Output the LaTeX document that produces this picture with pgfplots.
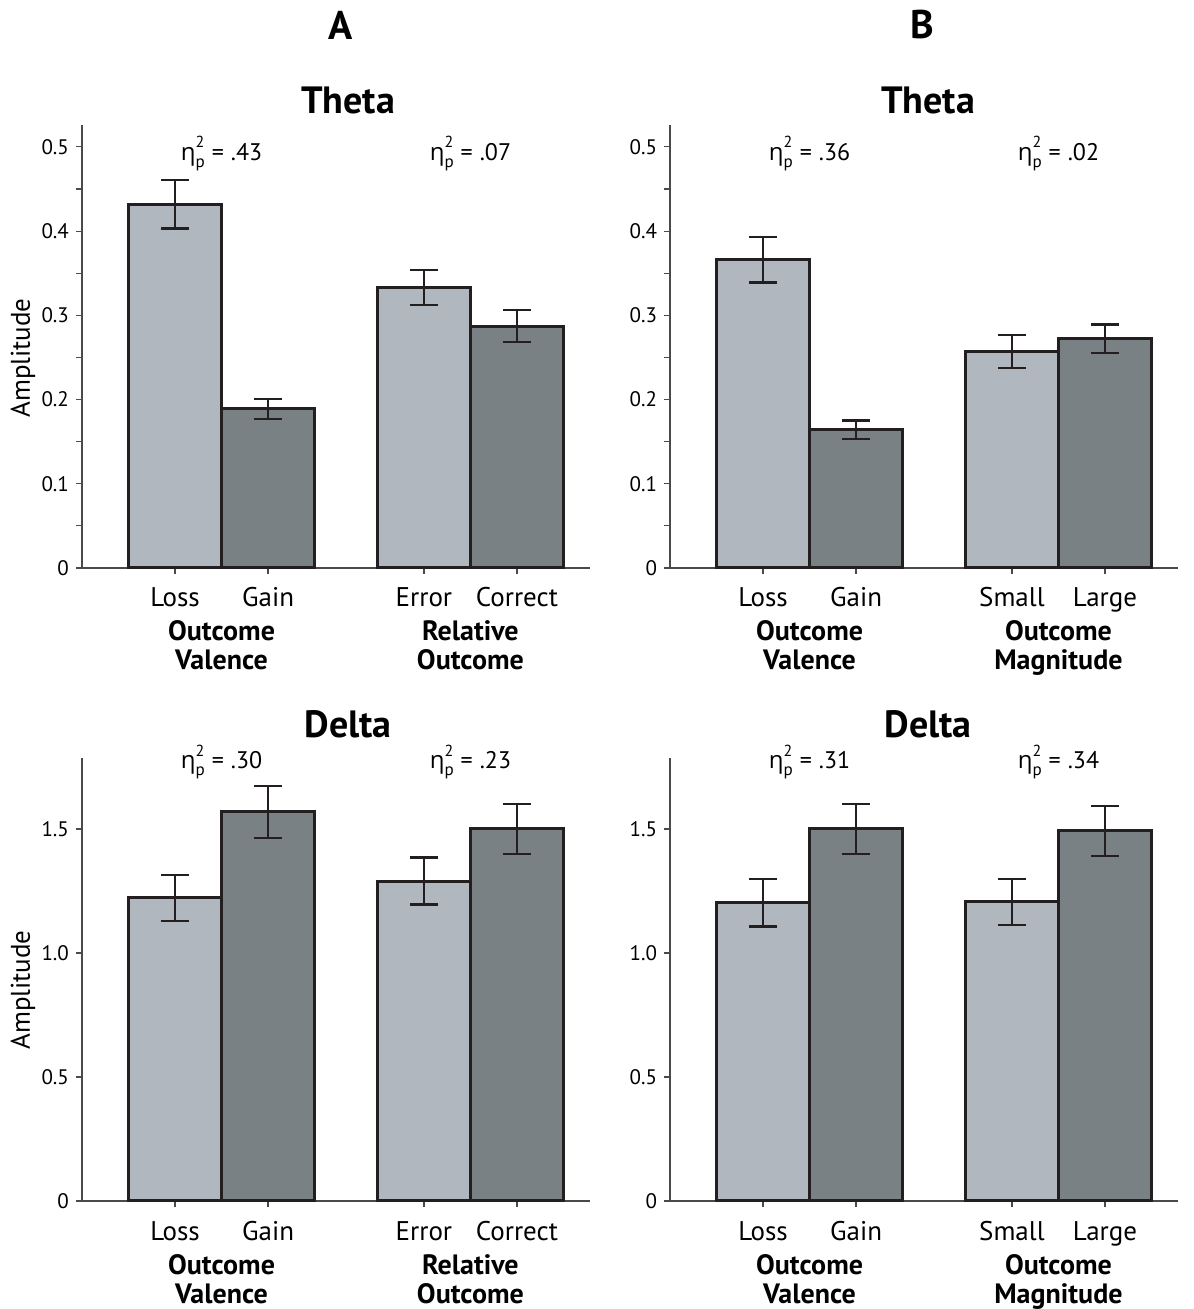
\documentclass[border=0pt]{standalone}
\usepackage{fontspec}
\setmainfont{PT Sans}
\newfontfamily\grk{Open Sans}
\usepackage{pgfplots}
\pgfplotsset{compat=1.18}
\usepackage{pgfplotstable}

\definecolor{lightbar}{HTML}{B1B7BE}
\definecolor{darkbar}{HTML}{7A8184}
\definecolor{edge}{HTML}{231F20}
\definecolor{axisgray}{HTML}{4A4A4A}

% x y err  (light = first level, dark = second level)
\pgfplotstableread{
x     y      e
1     0.432  0.029
3.675 0.333  0.021
}\thetaAlight
\pgfplotstableread{
x     y      e
2     0.189  0.012
4.675 0.287  0.019
}\thetaAdark
\pgfplotstableread{
x     y      e
1     0.366  0.027
3.675 0.257  0.020
}\thetaBlight
\pgfplotstableread{
x     y      e
2     0.164  0.011
4.675 0.272  0.017
}\thetaBdark
\pgfplotstableread{
x     y      e
1     1.222  0.093
3.675 1.290  0.095
}\deltaAlight
\pgfplotstableread{
x     y      e
2     1.569  0.105
4.675 1.500  0.101
}\deltaAdark
\pgfplotstableread{
x     y      e
1     1.202  0.095
3.675 1.206  0.093
}\deltaBlight
\pgfplotstableread{
x     y      e
2     1.500  0.100
4.675 1.492  0.100
}\deltaBdark

\newcommand{\etap}[1]{{\grk η}\rlap{\raisebox{1.05ex}{\fontsize{8}{9}\selectfont 2}}\raisebox{-0.6ex}{\fontsize{8.5}{9}\selectfont p}\hspace{3.5pt}=\hspace{3.5pt}#1}

\tikzset{eta/.style={font=\fontsize{12}{14}\selectfont}}

\pgfplotsset{
  panel/.style={
    scale only axis, width=254pt, height=221.5pt,
    anchor=south west, clip=false,
    xmin=0, xmax=5.46, ymin=0,
    axis x line*=bottom, axis y line*=left,
    axis line style={-, axisgray, line width=0.6pt},
    tick style={axisgray, line width=0.6pt},
    tick align=outside, major tick length=3pt, minor tick length=3pt,
    xtick={1,2,3.675,4.675},
    xticklabel style={font=\fontsize{13.5}{15}\selectfont, anchor=base, yshift=-16.5pt},
    yticklabel style={font=\fontsize{10.5}{12}\selectfont},
    /pgf/number format/assume math mode=true,
  },
  bars/.style={ybar, bar width=1, bar shift=0pt, draw=edge, line width=1.5pt,
    error bars/y dir=both, error bars/y explicit,
    error bars/error bar style={line width=1.1pt, draw=edge},
    error bars/error mark options={rotate=90, mark size=7pt, line width=1.1pt, draw=edge}},
}

\newcommand{\group}[3]{%
  \node[anchor=base, font=\fontsize{14}{15}\selectfont\bfseries, yshift=-36.5pt] at (axis cs:#1,0) {#2};
  \node[anchor=base, font=\fontsize{14}{15}\selectfont\bfseries, yshift=-51pt] at (axis cs:#1,0) {#3};}

\begin{document}
\begin{tikzpicture}
\useasboundingbox (0,0) rectangle (596.5pt,654.5pt);

% top left
\begin{axis}[panel, at={(41pt,370.5pt)}, ymax=0.526,
    ytick={0,0.1,...,0.5}, minor y tick num=1,
    xticklabels={Loss,Gain,Error,Correct}]
  \addplot[bars, fill=lightbar] table[x=x,y=y,y error=e] {\thetaAlight};
  \addplot[bars, fill=darkbar] table[x=x,y=y,y error=e] {\thetaAdark};
  \node[eta] at (axis cs:1.5,0.492) {\etap{.43}};
  \node[eta] at (axis cs:4.175,0.492) {\etap{.07}};
  \group{1.5}{Outcome}{Valence}
  \group{4.175}{Relative}{Outcome}
\end{axis}

% top right
\begin{axis}[panel, at={(335pt,370.5pt)}, ymax=0.526,
    ytick={0,0.1,...,0.5}, minor y tick num=1,
    xticklabels={Loss,Gain,Small,Large}]
  \addplot[bars, fill=lightbar] table[x=x,y=y,y error=e] {\thetaBlight};
  \addplot[bars, fill=darkbar] table[x=x,y=y,y error=e] {\thetaBdark};
  \node[eta] at (axis cs:1.5,0.492) {\etap{.36}};
  \node[eta] at (axis cs:4.175,0.492) {\etap{.02}};
  \group{1.5}{Outcome}{Valence}
  \group{4.175}{Outcome}{Magnitude}
\end{axis}

% bottom left
\begin{axis}[panel, at={(41pt,54pt)}, ymax=1.786,
    ytick={0,0.5,1,1.5}, yticklabels={0,0.5,1.0,1.5},
    xticklabels={Loss,Gain,Error,Correct}]
  \addplot[bars, fill=lightbar] table[x=x,y=y,y error=e] {\deltaAlight};
  \addplot[bars, fill=darkbar] table[x=x,y=y,y error=e] {\deltaAdark};
  \node[eta] at (axis cs:1.5,1.77) {\etap{.30}};
  \node[eta] at (axis cs:4.175,1.77) {\etap{.23}};
  \group{1.5}{Outcome}{Valence}
  \group{4.175}{Relative}{Outcome}
\end{axis}

% bottom right
\begin{axis}[panel, at={(335pt,54pt)}, ymax=1.786,
    ytick={0,0.5,1,1.5}, yticklabels={0,0.5,1.0,1.5},
    xticklabels={Loss,Gain,Small,Large}]
  \addplot[bars, fill=lightbar] table[x=x,y=y,y error=e] {\deltaBlight};
  \addplot[bars, fill=darkbar] table[x=x,y=y,y error=e] {\deltaBdark};
  \node[eta] at (axis cs:1.5,1.77) {\etap{.31}};
  \node[eta] at (axis cs:4.175,1.77) {\etap{.34}};
  \group{1.5}{Outcome}{Valence}
  \group{4.175}{Outcome}{Magnitude}
\end{axis}

% panel letters, titles, y labels
\node[font=\fontsize{20}{24}\selectfont\bfseries] at (170.5pt,642pt) {A};
\node[font=\fontsize{20}{24}\selectfont\bfseries] at (461pt,642pt) {B};
\node[font=\fontsize{19}{22}\selectfont\bfseries] at (174pt,604.5pt) {Theta};
\node[font=\fontsize{19}{22}\selectfont\bfseries] at (464pt,604.5pt) {Theta};
\node[font=\fontsize{19}{22}\selectfont\bfseries] at (174pt,292.5pt) {Delta};
\node[font=\fontsize{19}{22}\selectfont\bfseries] at (464pt,292.5pt) {Delta};
\node[font=\fontsize{13.5}{15}\selectfont, rotate=90] at (11.5pt,475.5pt) {Amplitude};
\node[font=\fontsize{13.5}{15}\selectfont, rotate=90] at (11.5pt,159.5pt) {Amplitude};
\end{tikzpicture}
\end{document}
